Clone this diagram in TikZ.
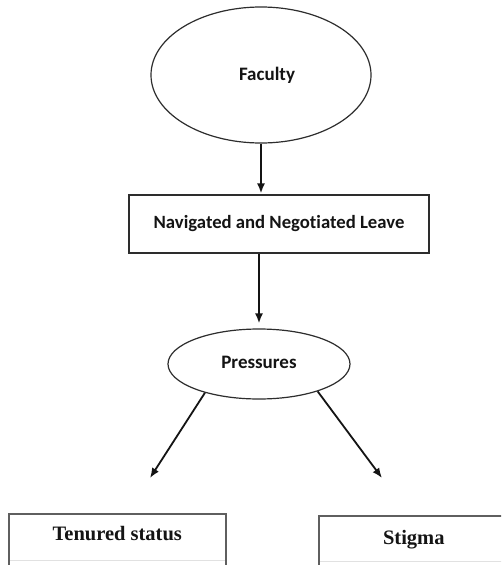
\documentclass[tikz,border=0pt]{standalone}
\usepackage{fontspec}
\usepackage{tikz}
\usetikzlibrary{arrows.meta,positioning,calc,shapes.geometric}
\newfontfamily\calibriface[Ligatures=NoCommon]{Carlito}
\newfontfamily\timesface{Liberation Serif}
\definecolor{inkBlack}{RGB}{20, 20, 20}
\definecolor{inkLine}{RGB}{45, 45, 45}
\definecolor{inkGrey}{RGB}{95, 95, 95}
\definecolor{inkRule}{RGB}{225, 225, 225}

\begin{document}
\begin{tikzpicture}[x=1pt, y=-1pt,
    oval/.style={draw=inkLine, line width=1.2pt, ellipse, inner sep=0pt, font=\calibriface\bfseries, text=inkBlack},
    flowbox/.style={draw=inkLine, line width=1.2pt, rectangle, inner sep=0pt, font=\calibriface\bfseries\fontsize{18.7pt}{22pt}\selectfont, text=inkBlack},
    tablebox/.style={draw=inkGrey, line width=1.6pt, rectangle, inner xsep=0pt, inner ysep=7pt, text height=20pt, text depth=60pt, font=\timesface\bfseries\fontsize{20.5pt}{24pt}\selectfont, text=inkBlack},
    flowarrow/.style={draw=inkBlack, line width=1.8pt, -{Latex[length=10pt,width=8pt]}}]
\clip (0,0) rectangle (501,565);
\fill[white] (0,0) rectangle (501,565);

\node[oval, minimum width=220pt, minimum height=136pt, font=\calibriface\bfseries\fontsize{19pt}{22pt}\selectfont] (faculty) at (261,75) {\hspace*{12pt}Faculty};
\node[flowbox, minimum width=300pt, minimum height=58pt] (navleave) at (279,224) {Navigated and Negotiated Leave};
\node[oval, minimum width=182pt, minimum height=70pt, font=\calibriface\bfseries\fontsize{19pt}{22pt}\selectfont] (pressures) at (259,364) {\raisebox{4pt}{Pressures}};

\node[tablebox, anchor=north west, minimum width=217pt] (tenured) at (8,513) {Tenured status};
\node[tablebox, anchor=north west, minimum width=190pt, inner ysep=9pt] (stigma) at (318,515) {Stigma};
\draw[inkRule, line width=0.8pt] ([xshift=2pt,yshift=-47pt]tenured.north west) -- ([xshift=-2pt,yshift=-47pt]tenured.north east);
\draw[inkRule, line width=0.8pt] ([xshift=2pt,yshift=-46pt]stigma.north west) -- ([xshift=-2pt,yshift=-46pt]stigma.north east);

\coordinate (tenuredtip) at (150,478);
\coordinate (stigmatip) at (382,478);

\draw[flowarrow, shorten >=1pt] (faculty.south) -- (faculty.south |- navleave.north);
\draw[flowarrow, shorten >=5pt] (pressures.north |- navleave.south) -- (pressures.north);
\draw[flowarrow] (pressures.208) -- (tenuredtip);
\draw[flowarrow] (pressures.335) -- (stigmatip);
\end{tikzpicture}
\end{document}
